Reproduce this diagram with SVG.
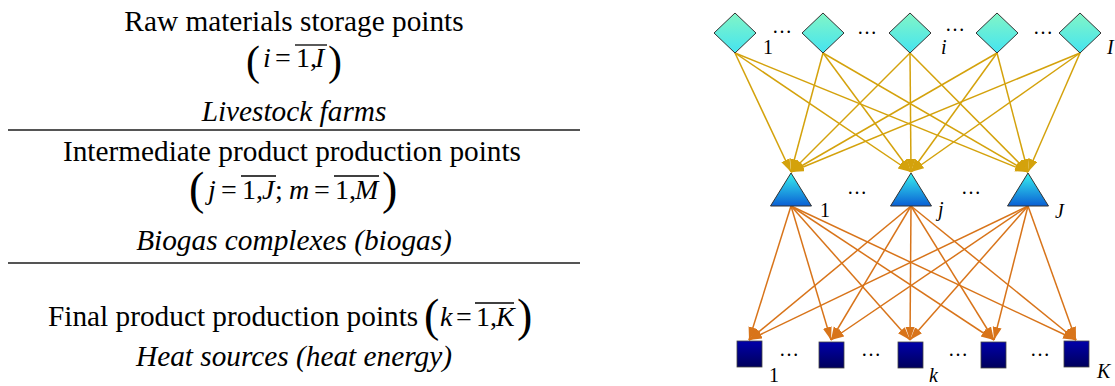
<svg xmlns="http://www.w3.org/2000/svg" width="1115" height="386" viewBox="0 0 1115 386">
<defs>
<style>
text{font-family:'Liberation Serif','Times New Roman','DejaVu Serif',serif;fill:#000}
.t{font-size:29.3px}
.it{font-style:italic}
.m{font-size:28px}
.p{font-size:46px}
.p1{font-size:42px}
.lb{font-size:20px}
.rule{stroke:#555;stroke-width:2}
.ov{stroke:#000;stroke-width:1.3}
.g{stroke:#D4A20C;stroke-width:1.5;fill:none;marker-end:url(#ag)}
.o{stroke:#D8741A;stroke-width:1.5;fill:none;marker-end:url(#ao)}
.dia{fill:url(#gd);stroke:#333;stroke-width:1}
.tri{fill:url(#gt);stroke:#333;stroke-width:1}
.sq{fill:url(#gs);stroke:#444;stroke-width:0.8}
</style>
<linearGradient id="gd" x1="0" y1="0" x2="0" y2="1"><stop offset="0" stop-color="#82F5C6"/><stop offset="1" stop-color="#44E4F0"/></linearGradient>
<linearGradient id="gt" x1="0" y1="0" x2="0" y2="1"><stop offset="0" stop-color="#38F2F0"/><stop offset="1" stop-color="#0A5FD4"/></linearGradient>
<linearGradient id="gs" x1="0" y1="0" x2="0" y2="1"><stop offset="0" stop-color="#0000AA"/><stop offset="1" stop-color="#00005C"/></linearGradient>
<marker id="ag" markerUnits="userSpaceOnUse" markerWidth="14" markerHeight="10" refX="13" refY="4.5" orient="auto"><path d="M0,0 L13,4.5 L0,9 z" fill="#D4A20C"/></marker>
<marker id="ao" markerUnits="userSpaceOnUse" markerWidth="14" markerHeight="10" refX="13" refY="4.5" orient="auto"><path d="M0,0 L13,4.5 L0,9 z" fill="#D8741A"/></marker>
</defs>
<rect width="1115" height="386" fill="#fff"/>

<g id="legend">
<text class="t" x="294" y="31" text-anchor="middle">Raw materials storage points</text>
<g id="eq1">
<text class="p1" x="246" y="75">(</text>
<text class="m it" x="263" y="67">i</text>
<text class="m" x="275" y="67">=</text>
<text class="m" x="296" y="67">1,</text>
<text class="m it" x="315" y="67">I</text>
<text class="p1" x="328" y="75">)</text>
<line class="ov" x1="295" y1="45" x2="327" y2="45"/>
</g>
<text class="t it" x="294" y="121" text-anchor="middle">Livestock farms</text>
<line class="rule" x1="8" y1="130" x2="580" y2="130"/>
<text class="t" x="292" y="161" text-anchor="middle">Intermediate product production points</text>
<g id="eq2">
<text class="p" x="189" y="204">(</text>
<text class="m it" x="208" y="199">j</text>
<text class="m" x="221" y="199">=</text>
<text class="m" x="242" y="199">1,</text>
<text class="m it" x="262" y="199">J</text>
<text class="m" x="275" y="199">;</text>
<text class="m it" x="289" y="199">m</text>
<text class="m" x="314" y="199">=</text>
<text class="m" x="335" y="199">1,</text>
<text class="m it" x="355" y="199">M</text>
<text class="p" x="382" y="204">)</text>
<line class="ov" x1="241" y1="176" x2="276" y2="176"/>
<line class="ov" x1="334" y1="176" x2="379" y2="176"/>
</g>
<text class="t it" x="294" y="250" text-anchor="middle">Biogas complexes (biogas)</text>
<line class="rule" x1="8" y1="263" x2="580" y2="263"/>
<text class="t" x="48" y="326">Final product production points</text>
<g id="eq3">
<text class="p" x="424" y="331">(</text>
<text class="m it" x="440" y="326">k</text>
<text class="m" x="456" y="326">=</text>
<text class="m" x="476" y="326">1,</text>
<text class="m it" x="496" y="326">K</text>
<text class="p" x="517" y="331">)</text>
<line class="ov" x1="475" y1="303" x2="514" y2="303"/>
</g>
<text class="t it" x="294" y="366" text-anchor="middle">Heat sources (heat energy)</text>
</g>

<g id="connectors">
<line class="g" x1="735" y1="53" x2="791" y2="172"/>
<line class="g" x1="735" y1="53" x2="911" y2="172"/>
<line class="g" x1="735" y1="53" x2="1028" y2="172"/>
<line class="g" x1="823" y1="53" x2="791" y2="172"/>
<line class="g" x1="823" y1="53" x2="911" y2="172"/>
<line class="g" x1="823" y1="53" x2="1028" y2="172"/>
<line class="g" x1="910" y1="53" x2="791" y2="172"/>
<line class="g" x1="910" y1="53" x2="911" y2="172"/>
<line class="g" x1="910" y1="53" x2="1028" y2="172"/>
<line class="g" x1="997" y1="53" x2="791" y2="172"/>
<line class="g" x1="997" y1="53" x2="911" y2="172"/>
<line class="g" x1="997" y1="53" x2="1028" y2="172"/>
<line class="g" x1="1080" y1="53" x2="791" y2="172"/>
<line class="g" x1="1080" y1="53" x2="911" y2="172"/>
<line class="g" x1="1080" y1="53" x2="1028" y2="172"/>

<line class="o" x1="791" y1="206" x2="749" y2="340"/>
<line class="o" x1="791" y1="206" x2="831" y2="340"/>
<line class="o" x1="791" y1="206" x2="910" y2="340"/>
<line class="o" x1="791" y1="206" x2="994" y2="340"/>
<line class="o" x1="791" y1="206" x2="1076" y2="340"/>
<line class="o" x1="911" y1="206" x2="749" y2="340"/>
<line class="o" x1="911" y1="206" x2="831" y2="340"/>
<line class="o" x1="911" y1="206" x2="910" y2="340"/>
<line class="o" x1="911" y1="206" x2="994" y2="340"/>
<line class="o" x1="911" y1="206" x2="1076" y2="340"/>
<line class="o" x1="1028" y1="206" x2="749" y2="340"/>
<line class="o" x1="1028" y1="206" x2="831" y2="340"/>
<line class="o" x1="1028" y1="206" x2="910" y2="340"/>
<line class="o" x1="1028" y1="206" x2="994" y2="340"/>
<line class="o" x1="1028" y1="206" x2="1076" y2="340"/>
</g>

<g id="raw-1"><polygon class="dia" points="735,13 756,33 735,53 714,33"/><text class="lb" x="763" y="54">1</text></g>
<g id="raw-2"><polygon class="dia" points="823,13 844,33 823,53 802,33"/></g>
<g id="raw-i"><polygon class="dia" points="910,13 931,33 910,53 889,33"/><text class="lb it" x="941" y="54">i</text></g>
<g id="raw-4"><polygon class="dia" points="997,13 1018,33 997,53 976,33"/></g>
<g id="raw-I"><polygon class="dia" points="1080,13 1101,33 1080,53 1059,33"/><text class="lb it" x="1107" y="54">I</text></g>
<g id="raw-dots">
<text class="lb" x="772" y="33">…</text>
<text class="lb" x="857" y="34">…</text>
<text class="lb" x="945" y="31">…</text>
<text class="lb" x="1033" y="34">…</text>
</g>

<g id="bio-1"><polygon class="tri" points="791,173 811.5,206 770.5,206"/><text class="lb" x="820" y="217">1</text></g>
<g id="bio-j"><polygon class="tri" points="911,173 931.5,206 890.5,206"/><text class="lb it" x="938" y="216">j</text></g>
<g id="bio-J"><polygon class="tri" points="1028,173 1048.5,206 1007.5,206"/><text class="lb it" x="1055" y="218">J</text></g>
<g id="bio-dots">
<text class="lb" x="847" y="194">…</text>
<text class="lb" x="961" y="194">…</text>
</g>

<g id="heat-1"><rect class="sq" x="737" y="341" width="25" height="26"/><text class="lb" x="769" y="382">1</text></g>
<g id="heat-2"><rect class="sq" x="819" y="342" width="25" height="26"/></g>
<g id="heat-k"><rect class="sq" x="898" y="342" width="25" height="26"/><text class="lb it" x="929" y="382">k</text></g>
<g id="heat-4"><rect class="sq" x="981" y="342" width="25" height="26"/></g>
<g id="heat-K"><rect class="sq" x="1064" y="341" width="25" height="26"/><text class="lb it" x="1097" y="378">K</text></g>
<g id="heat-dots">
<text class="lb" x="779" y="356">…</text>
<text class="lb" x="861" y="356">…</text>
<text class="lb" x="948" y="356">…</text>
<text class="lb" x="1030" y="356">…</text>
</g>
</svg>
